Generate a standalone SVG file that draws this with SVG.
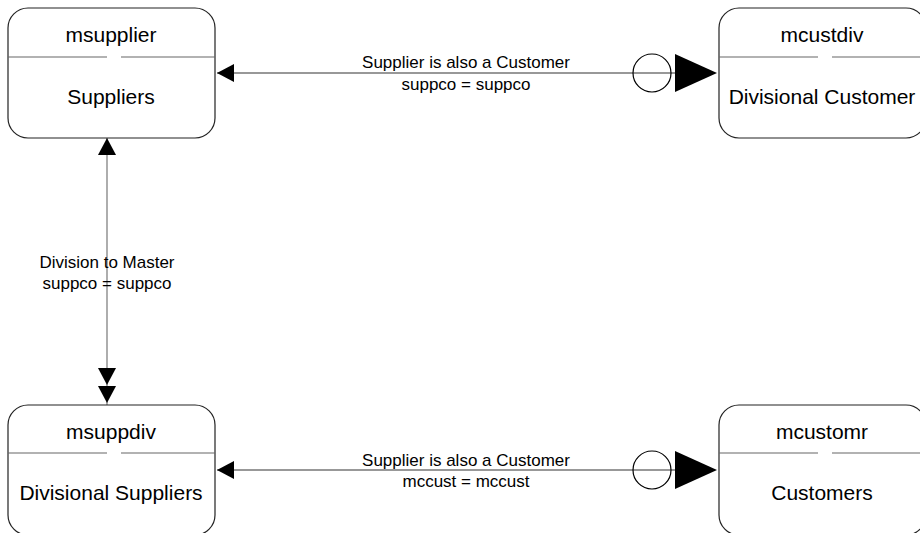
<svg xmlns="http://www.w3.org/2000/svg" width="920" height="533" viewBox="0 0 920 533">
<style>
.box{fill:#fff;stroke:#222;stroke-width:1.2}
.div{stroke:#666;stroke-width:1.2}
.t{font-family:"Liberation Sans",Arial,sans-serif;font-size:21px;fill:#000;text-anchor:middle}
.l{font-family:"Liberation Sans",Arial,sans-serif;font-size:17px;fill:#000;text-anchor:middle}
.ln{stroke:#333;stroke-width:1.2;fill:none}
.ah{fill:#000;stroke:none}
.cir{fill:none;stroke:#000;stroke-width:1.2}
</style>
<rect width="920" height="533" fill="#fff"/>
<g id="connectors">
  <g id="c1">
    <line class="ln" x1="217" y1="73" x2="675" y2="73"/>
    <polygon class="ah" points="217,73 234,64 234,82"/>
    <circle class="cir" cx="652" cy="73" r="19"/>
    <polygon class="ah" points="717,73 675,54 675,92"/>
    <text class="l" x="466" y="68">Supplier is also a Customer</text>
    <text class="l" x="466" y="90">suppco = suppco</text>
  </g>
  <g id="c2">
    <line class="ln" x1="217" y1="470" x2="675" y2="470"/>
    <polygon class="ah" points="217,470 234,461 234,479"/>
    <circle class="cir" cx="652" cy="470" r="19"/>
    <polygon class="ah" points="717,470 675,451 675,489"/>
    <text class="l" x="466" y="466">Supplier is also a Customer</text>
    <text class="l" x="466" y="487">mccust = mccust</text>
  </g>
  <g id="c3">
    <line class="ln" x1="107" y1="138" x2="107" y2="405" style="stroke:#777"/>
    <polygon class="ah" points="107,138 98,155 116,155"/>
    <polygon class="ah" points="107,385 98,368 116,368"/>
    <polygon class="ah" points="107,403 98,386 116,386"/>
    <text class="l" x="107" y="268">Division to Master</text>
    <text class="l" x="107" y="289">suppco = suppco</text>
  </g>
</g>
<g id="msupplier">
  <rect class="box" x="8" y="8" width="207" height="130" rx="20"/>
  <line class="div" x1="8" y1="57" x2="107" y2="57"/>
  <line class="div" x1="121" y1="57" x2="215" y2="57"/>
  <text class="t" x="111" y="42">msupplier</text>
  <text class="t" x="111" y="104">Suppliers</text>
</g>
<g id="mcustdiv">
  <rect class="box" x="719" y="8" width="207" height="130" rx="20"/>
  <line class="div" x1="719" y1="57" x2="818" y2="57"/>
  <line class="div" x1="832" y1="57" x2="926" y2="57"/>
  <text class="t" x="822" y="42">mcustdiv</text>
  <text class="t" x="822" y="104">Divisional Customer</text>
</g>
<g id="msuppdiv">
  <rect class="box" x="8" y="405" width="207" height="130" rx="20"/>
  <line class="div" x1="8" y1="453" x2="107" y2="453"/>
  <line class="div" x1="121" y1="453" x2="215" y2="453"/>
  <text class="t" x="111" y="439">msuppdiv</text>
  <text class="t" x="111" y="500">Divisional Suppliers</text>
</g>
<g id="mcustomr">
  <rect class="box" x="719" y="405" width="207" height="130" rx="20"/>
  <line class="div" x1="719" y1="453" x2="818" y2="453"/>
  <line class="div" x1="832" y1="453" x2="926" y2="453"/>
  <text class="t" x="822" y="439">mcustomr</text>
  <text class="t" x="822" y="500">Customers</text>
</g>
</svg>
